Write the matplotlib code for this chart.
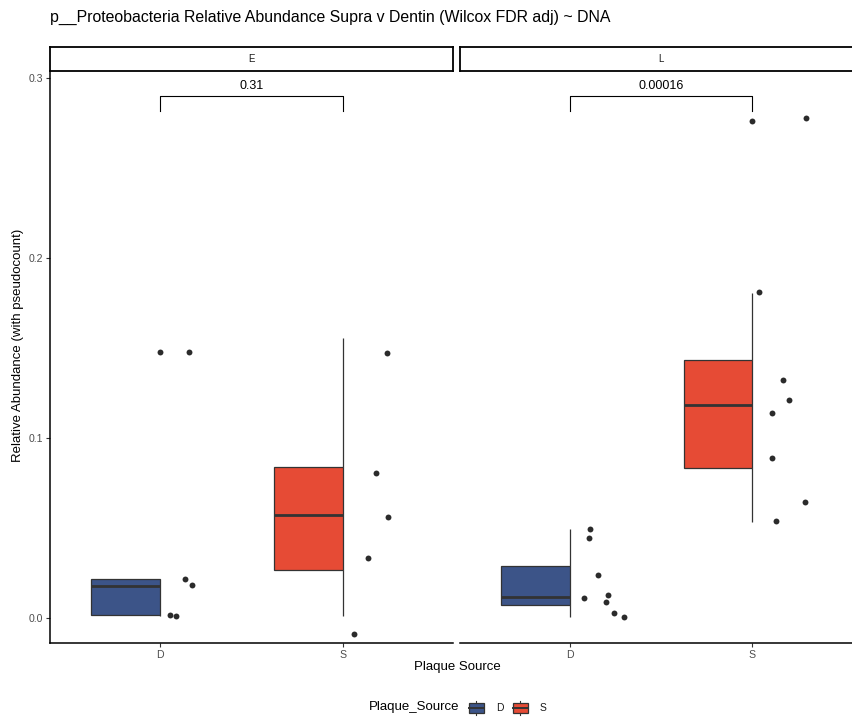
import matplotlib
matplotlib.use("Agg")
import matplotlib.pyplot as plt
from matplotlib.patches import Rectangle, Patch
from matplotlib.legend_handler import HandlerBase
from matplotlib.lines import Line2D

plt.rcParams['font.family'] = ['Liberation Sans', 'DejaVu Sans']

# ---- data -------------------------------------------------------------
panels = ["E", "L"]
sources = ["D", "S"]
colors = {"D": "#3C5488", "S": "#E64B35"}

# box summaries: lower whisker, Q1, median, Q3, upper whisker
box_E_D = [0.0011, 0.0017, 0.0180, 0.0219, 0.0219]
box_E_S = [0.0011, 0.0269, 0.0570, 0.0841, 0.1556]
box_L_D = [0.0008, 0.0070, 0.0119, 0.0286, 0.0494]
box_L_S = [0.0534, 0.0833, 0.1181, 0.1432, 0.1807]

# jittered sample points (value, horizontal jitter offset)
pts_E_D = [0.1480, 0.1478, 0.0215, 0.0182, 0.0017, 0.0011]
jit_E_D = [0.000, 0.157, 0.135, 0.176, 0.055, 0.089]
pts_E_S = [0.1474, 0.0807, 0.0559, 0.0335, -0.0089]
jit_E_S = [0.237, 0.179, 0.246, 0.138, 0.062]
pts_L_D = [0.0494, 0.0443, 0.0237, 0.0112, 0.0128, 0.0089, 0.0028, 0.0006]
jit_L_D = [0.113, 0.104, 0.154, 0.077, 0.209, 0.198, 0.242, 0.297]
pts_L_S = [0.2761, 0.2777, 0.1809, 0.1321, 0.1212, 0.1141, 0.0891, 0.0647, 0.0539]
jit_L_S = [0.000, 0.295, 0.038, 0.168, 0.202, 0.108, 0.108, 0.286, 0.132]

pvals = {"E": "0.31", "L": "0.00016"}
bracket_y = 0.2900
bracket_tip = 0.2817

yticks = [0.0, 0.1, 0.2, 0.3]
ytick_labels = ["0.0", "0.1", "0.2", "0.3"]

boxes = {("E", "D"): box_E_D, ("E", "S"): box_E_S,
         ("L", "D"): box_L_D, ("L", "S"): box_L_S}
points = {("E", "D"): (pts_E_D, jit_E_D), ("E", "S"): (pts_E_S, jit_E_S),
          ("L", "D"): (pts_L_D, jit_L_D), ("L", "S"): (pts_L_S, jit_L_S)}

# ---- figure -----------------------------------------------------------
W, H = 853, 717
fig = plt.figure(figsize=(W / 100, H / 100), dpi=100)


def frac(x0, y_top, x1, y_bot):
    return [x0 / W, 1 - y_bot / H, (x1 - x0) / W, (y_bot - y_top) / H]


# the second facet runs past the right edge of the canvas
panel_px = {"E": (50, 453), "L": (460, 862)}
EDGE = "#333333"
BOXW = 0.375

for i, pn in enumerate(panels):
    x0, x1 = panel_px[pn]
    ax = fig.add_axes(frac(x0, 72, x1, 643))
    ax.set_xlim(0.4, 2.6)
    ax.set_ylim(-0.0139, 0.3033)
    for j, src in enumerate(sources):
        xc = j + 1
        wlo, q1, med, q3, whi = boxes[(pn, src)]
        ax.vlines(xc, wlo, q1, color=EDGE, lw=0.9, zorder=2)
        ax.vlines(xc, q3, whi, color=EDGE, lw=0.9, zorder=2)
        ax.add_patch(Rectangle((xc - BOXW, q1), BOXW, q3 - q1,
                               facecolor=colors[src], edgecolor=EDGE,
                               lw=0.9, zorder=3))
        ax.plot([xc - BOXW, xc], [med, med], color=EDGE, lw=2.0,
                solid_capstyle="butt", zorder=4)
        vals, jit = points[(pn, src)]
        ax.scatter([xc + d for d in jit], vals, s=18, color="#2b2b2b",
                   linewidths=0, zorder=5)
    # significance bracket
    ax.plot([1, 1, 2, 2], [bracket_tip, bracket_y, bracket_y, bracket_tip],
            color="black", lw=0.8, zorder=4)
    ax.annotate(pvals[pn], (1.5, bracket_y), xytext=(0, 2.5),
                textcoords="offset points", ha="center", va="bottom",
                fontsize=9, color="black")

    ax.set_xticks([1, 2])
    ax.set_xticklabels(sources)
    for s in ["top", "right"]:
        ax.spines[s].set_visible(False)
    ax.spines["bottom"].set_linewidth(1.1)
    ax.spines["left"].set_linewidth(1.1)
    ax.tick_params(axis="both", length=2.8, width=0.8, color=EDGE,
                   labelsize=7.6, labelcolor="#4d4d4d", pad=2.2)
    if i == 0:
        ax.set_yticks(yticks)
        ax.set_yticklabels(ytick_labels)
    else:
        ax.spines["left"].set_visible(False)
        ax.set_yticks([])

    # facet strip
    sax = fig.add_axes(frac(x0, 47, x1, 71))
    sax.set_xticks([])
    sax.set_yticks([])
    for s in sax.spines.values():
        s.set_linewidth(1.3)
        s.set_color("black")
    sax.text(0.5, 0.5, pn, ha="center", va="center", fontsize=7,
             color="#1a1a1a", transform=sax.transAxes)

# ---- titles -------------------------------------------------------------
fig.text(50 / W, 1 - 17 / H,
         "p__Proteobacteria Relative Abundance Supra v Dentin (Wilcox FDR adj) ~ DNA",
         ha="left", va="center", fontsize=11.4, color="black")
fig.text(457 / W, 1 - 667 / H, "Plaque Source", ha="center", va="center",
         fontsize=9.5, color="black")
fig.text(18 / W, 1 - 345 / H, "Relative Abundance (with pseudocount)",
         ha="center", va="center", rotation=90, fontsize=9.5, color="black")


# ---- legend -------------------------------------------------------------
class BoxKey(HandlerBase):
    def create_artists(self, legend, orig_handle, xdescent, ydescent,
                       width, height, fontsize, trans):
        fc = orig_handle.get_facecolor()
        x0, y0 = -xdescent, -ydescent
        pad = 0.15 * height
        rect = Rectangle((x0, y0 + pad), width, height - 2 * pad,
                         facecolor=fc, edgecolor=EDGE, lw=0.9,
                         transform=trans)
        cx = x0 + width / 2
        lo = Line2D([cx, cx], [y0, y0 + pad], color=EDGE, lw=0.8,
                    transform=trans)
        hi = Line2D([cx, cx], [y0 + height - pad, y0 + height], color=EDGE,
                    lw=0.8, transform=trans)
        md = Line2D([x0, x0 + width], [y0 + height / 2] * 2, color=EDGE,
                    lw=1.4, transform=trans)
        return [rect, lo, hi, md]


handles = [Patch(facecolor=colors[s]) for s in sources]
fig.text(369 / W, 1 - 707 / H, "Plaque_Source", ha="left", va="center",
         fontsize=9.5, color="black")
fig.legend(handles, sources, handler_map={Patch: BoxKey()},
           loc="center left", bbox_to_anchor=(469 / W, 1 - 708 / H),
           ncol=2, frameon=False, fontsize=7.5, borderpad=0,
           borderaxespad=0, handlelength=1.4, handleheight=1.6,
           handletextpad=1.2, columnspacing=0.9,
           labelcolor="#1a1a1a")

fig.savefig("out.png", dpi=100)
